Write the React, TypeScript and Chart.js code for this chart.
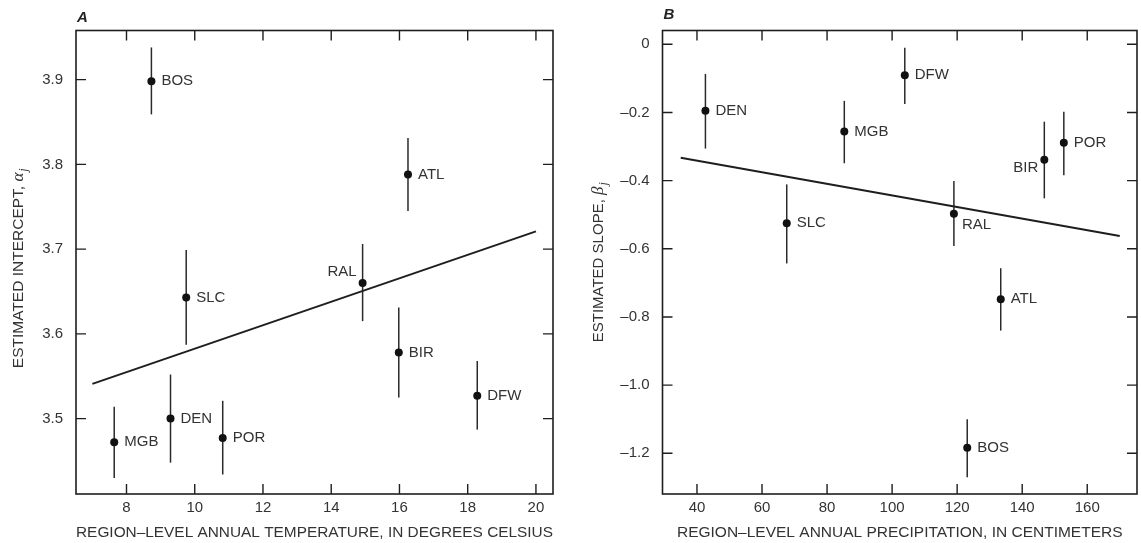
import React, { useEffect, useRef } from 'react';
import { Chart, registerables } from 'chart.js';

Chart.register(...registerables);

// ---------- Panel A: intercept vs. temperature ----------
const CITIES_A = ['BOS', 'ATL', 'RAL', 'SLC', 'BIR', 'DFW', 'DEN', 'POR', 'MGB'];
const TEMP_C = [8.73, 16.25, 14.92, 9.75, 15.98, 18.28, 9.29, 10.82, 7.64];
const INTERCEPT = [3.898, 3.788, 3.66, 3.643, 3.578, 3.527, 3.5, 3.477, 3.472];
const INTERCEPT_LO = [3.859, 3.745, 3.615, 3.587, 3.525, 3.487, 3.448, 3.434, 3.43];
const INTERCEPT_HI = [3.938, 3.831, 3.706, 3.699, 3.631, 3.568, 3.552, 3.521, 3.514];
const FIT_A_X = [7, 20];
const FIT_A_Y = [3.541, 3.721];
const X_TICKS_A = [8, 10, 12, 14, 16, 18, 20];
const Y_TICKS_A = [3.5, 3.6, 3.7, 3.8, 3.9];

// ---------- Panel B: slope vs. precipitation ----------
const CITIES_B = ['DEN', 'DFW', 'MGB', 'SLC', 'RAL', 'BIR', 'POR', 'ATL', 'BOS'];
const PRECIP_CM = [42.6, 103.9, 85.3, 67.6, 119.0, 146.8, 152.8, 133.4, 123.1];
const SLOPE = [-0.195, -0.091, -0.256, -0.525, -0.497, -0.339, -0.289, -0.748, -1.184];
const SLOPE_LO = [-0.306, -0.175, -0.349, -0.643, -0.592, -0.452, -0.384, -0.84, -1.27];
const SLOPE_HI = [-0.087, -0.01, -0.166, -0.411, -0.401, -0.227, -0.198, -0.657, -1.1];
const FIT_B_X = [35, 170];
const FIT_B_Y = [-0.333, -0.5625];
const X_TICKS_B = [40, 60, 80, 100, 120, 140, 160];
const Y_TICKS_B = [0, -0.2, -0.4, -0.6, -0.8, -1.0, -1.2];

// label placement styles (not data)
const LABEL_POS_A = ['right', 'right', 'upLeft', 'right', 'right', 'right', 'right', 'right', 'right'];
const LABEL_POS_B = ['right', 'right', 'right', 'right', 'downRight', 'downLeft', 'right', 'right', 'right'];

const FONT = "'Liberation Sans', Arial, Helvetica, sans-serif";
const SERIF = "'Liberation Serif', 'Times New Roman', serif";
const INK = '#333';
const LINE = '#1e1e1e';

type Panel = {
  letter: string;
  letterDy: number;
  cities: string[];
  x: number[];
  y: number[];
  lo: number[];
  hi: number[];
  labelPos: string[];
  fitX: number[];
  fitY: number[];
  xTicks: number[];
  yTicks: number[];
  xMin: number;
  xMax: number;
  yMin: number;
  yMax: number;
  xTitle: string;
  yTitle: string;
  greek: string;
  yAxisWidth: number;
  padTop: number;
  padRight: number;
  yTitleX: number;
  yTitleShift: number;
  yTitleSize: number;
  yFmt: (v: number) => string;
};

function panelPlugin(p: Panel) {
  return {
    id: 'panel' + p.letter,
    beforeDatasetsDraw(chart: any) {
      const { ctx, scales } = chart;
      const xs = scales.x;
      const ys = scales.y;
      ctx.save();
      ctx.strokeStyle = '#2a2a2a';
      ctx.lineWidth = 1.5;
      for (let i = 0; i < p.x.length; i++) {
        const px = xs.getPixelForValue(p.x[i]);
        ctx.beginPath();
        ctx.moveTo(px, ys.getPixelForValue(p.lo[i]));
        ctx.lineTo(px, ys.getPixelForValue(p.hi[i]));
        ctx.stroke();
      }
      ctx.restore();
    },
    afterDatasetsDraw(chart: any) {
      const { ctx, scales } = chart;
      const xs = scales.x;
      const ys = scales.y;
      ctx.save();
      ctx.font = `15px ${FONT}`;
      ctx.fillStyle = INK;
      for (let i = 0; i < p.x.length; i++) {
        const px = xs.getPixelForValue(p.x[i]);
        const py = ys.getPixelForValue(p.y[i]);
        const pos = p.labelPos[i];
        ctx.textBaseline = 'middle';
        if (pos === 'upLeft') {
          ctx.textAlign = 'right';
          ctx.fillText(p.cities[i], px - 6, py - 11);
        } else if (pos === 'downLeft') {
          ctx.textAlign = 'right';
          ctx.fillText(p.cities[i], px - 6, py + 8);
        } else if (pos === 'downRight') {
          ctx.textAlign = 'left';
          ctx.fillText(p.cities[i], px + 8, py + 11);
        } else {
          ctx.textAlign = 'left';
          ctx.fillText(p.cities[i], px + 10, py);
        }
      }
      ctx.restore();
    },
    afterDraw(chart: any) {
      const { ctx, chartArea: ca, scales } = chart;
      const xs = scales.x;
      const ys = scales.y;
      ctx.save();
      // frame
      ctx.strokeStyle = LINE;
      ctx.lineWidth = 1.6;
      ctx.strokeRect(ca.left, ca.top, ca.right - ca.left, ca.bottom - ca.top);
      // inward ticks on all four sides
      const TL = 10;
      ctx.lineWidth = 1.4;
      ctx.beginPath();
      for (const t of xs.ticks) {
        const px = xs.getPixelForValue(t.value);
        ctx.moveTo(px, ca.bottom);
        ctx.lineTo(px, ca.bottom - TL);
        ctx.moveTo(px, ca.top);
        ctx.lineTo(px, ca.top + TL);
      }
      for (const t of ys.ticks) {
        const py = ys.getPixelForValue(t.value);
        ctx.moveTo(ca.left, py);
        ctx.lineTo(ca.left + TL, py);
        ctx.moveTo(ca.right, py);
        ctx.lineTo(ca.right - TL, py);
      }
      ctx.stroke();

      // panel letter
      ctx.fillStyle = '#222';
      ctx.font = `italic bold 15px ${FONT}`;
      ctx.textAlign = 'left';
      ctx.textBaseline = 'middle';
      ctx.fillText(p.letter, ca.left + 1, ca.top + p.letterDy);

      // rotated y title with italic greek symbol and subscript j
      const cy = (ca.top + ca.bottom) / 2 + p.yTitleShift;
      ctx.translate(p.yTitleX, cy);
      ctx.rotate(-Math.PI / 2);
      const mainFont = `${p.yTitleSize}px ${FONT}`;
      const greekFont = `italic 17px ${SERIF}`;
      const subFont = `italic 12px ${SERIF}`;
      ctx.font = mainFont;
      const w1 = ctx.measureText(p.yTitle).width;
      ctx.font = greekFont;
      const w2 = ctx.measureText(p.greek).width;
      ctx.font = subFont;
      const w3 = ctx.measureText('j').width;
      let x0 = -(w1 + w2 + w3 + 1) / 2;
      ctx.fillStyle = INK;
      ctx.textAlign = 'left';
      ctx.textBaseline = 'alphabetic';
      ctx.font = mainFont;
      ctx.fillText(p.yTitle, x0, 5);
      x0 += w1;
      ctx.font = greekFont;
      ctx.fillText(p.greek, x0, 5);
      x0 += w2 + 1;
      ctx.font = subFont;
      ctx.fillText('j', x0, 9);
      ctx.restore();
    },
  };
}

function makeConfig(p: Panel): any {
  const tickFont = { family: FONT, size: 15 };
  return {
    type: 'scatter',
    data: {
      datasets: [
        {
          type: 'line',
          data: p.fitX.map((x, i) => ({ x, y: p.fitY[i] })),
          borderColor: LINE,
          borderWidth: 2,
          pointRadius: 0,
          fill: false,
          tension: 0,
          order: 2,
        },
        {
          type: 'scatter',
          data: p.x.map((x, i) => ({ x, y: p.y[i] })),
          pointRadius: 4,
          pointBackgroundColor: '#111',
          pointBorderColor: '#111',
          pointBorderWidth: 0,
          order: 1,
        },
      ],
    },
    options: {
      responsive: false,
      animation: false,
      devicePixelRatio: 1,
      layout: { padding: { top: p.padTop, right: p.padRight, left: 0, bottom: 0 } },
      plugins: { legend: { display: false }, tooltip: { enabled: false } },
      scales: {
        x: {
          type: 'linear',
          min: p.xMin,
          max: p.xMax,
          afterFit: (s: any) => {
            s.height = 49;
          },
          afterBuildTicks: (s: any) => {
            s.ticks = p.xTicks.map((v) => ({ value: v }));
          },
          grid: { display: false, drawTicks: false },
          border: { display: false },
          ticks: {
            font: tickFont,
            color: INK,
            padding: 5,
            maxRotation: 0,
            autoSkip: false,
            callback: (v: any) => String(v),
          },
          title: {
            display: true,
            text: p.xTitle,
            font: { family: FONT, size: 15.5 },
            color: INK,
            padding: { top: 0, bottom: 1 },
          },
        },
        y: {
          type: 'linear',
          min: p.yMin,
          max: p.yMax,
          afterFit: (s: any) => {
            s.width = p.yAxisWidth;
          },
          afterBuildTicks: (s: any) => {
            s.ticks = p.yTicks.map((v) => ({ value: v }));
          },
          grid: { display: false, drawTicks: false },
          border: { display: false },
          ticks: {
            font: tickFont,
            color: INK,
            padding: 13,
            autoSkip: false,
            callback: (v: any) => p.yFmt(Number(v)),
          },
        },
      },
    },
    plugins: [panelPlugin(p)],
  };
}

const PANEL_A: Panel = {
  letter: 'A',
  letterDy: -13,
  cities: CITIES_A,
  x: TEMP_C,
  y: INTERCEPT,
  lo: INTERCEPT_LO,
  hi: INTERCEPT_HI,
  labelPos: LABEL_POS_A,
  fitX: FIT_A_X,
  fitY: FIT_A_Y,
  xTicks: X_TICKS_A,
  yTicks: Y_TICKS_A,
  xMin: 6.52,
  xMax: 20.5,
  yMin: 3.411,
  yMax: 3.958,
  xTitle: 'REGION\u2013LEVEL ANNUAL TEMPERATURE, IN DEGREES CELSIUS',
  yTitle: 'ESTIMATED INTERCEPT, ',
  greek: '\u03b1',
  yAxisWidth: 76,
  padTop: 30.5,
  padRight: 17,
  yTitleX: 18,
  yTitleShift: 6,
  yTitleSize: 15.5,
  yFmt: (v) => v.toFixed(1),
};

const PANEL_B: Panel = {
  letter: 'B',
  letterDy: -16,
  cities: CITIES_B,
  x: PRECIP_CM,
  y: SLOPE,
  lo: SLOPE_LO,
  hi: SLOPE_HI,
  labelPos: LABEL_POS_B,
  fitX: FIT_B_X,
  fitY: FIT_B_Y,
  xTicks: X_TICKS_B,
  yTicks: Y_TICKS_B,
  xMin: 29.4,
  xMax: 175.3,
  yMin: -1.3195,
  yMax: 0.0405,
  xTitle: 'REGION\u2013LEVEL ANNUAL PRECIPITATION, IN CENTIMETERS',
  yTitle: 'ESTIMATED SLOPE, ',
  greek: '\u03b2',
  yAxisWidth: 92.5,
  padTop: 30.5,
  padRight: 1,
  yTitleX: 28,
  yTitleShift: 0,
  yTitleSize: 15,
  yFmt: (v) => (Math.abs(v) < 1e-9 ? '0' : v.toFixed(1).replace('-', '\u2013')),
};

function PanelChart({ panel, width, height }: { panel: Panel; width: number; height: number }) {
  const ref = useRef<HTMLCanvasElement | null>(null);
  useEffect(() => {
    if (!ref.current) return;
    const chart = new Chart(ref.current, makeConfig(panel));
    return () => chart.destroy();
  }, [panel]);
  return <canvas ref={ref} width={width} height={height} style={{ display: 'block', width, height }} />;
}

export default function App() {
  return (
    <div
      style={{
        position: 'fixed',
        left: 0,
        top: 0,
        width: 1141,
        height: 543,
        background: '#fff',
        display: 'flex',
      }}
    >
      <PanelChart panel={PANEL_A} width={570} height={543} />
      <PanelChart panel={PANEL_B} width={571} height={543} />
    </div>
  );
}
